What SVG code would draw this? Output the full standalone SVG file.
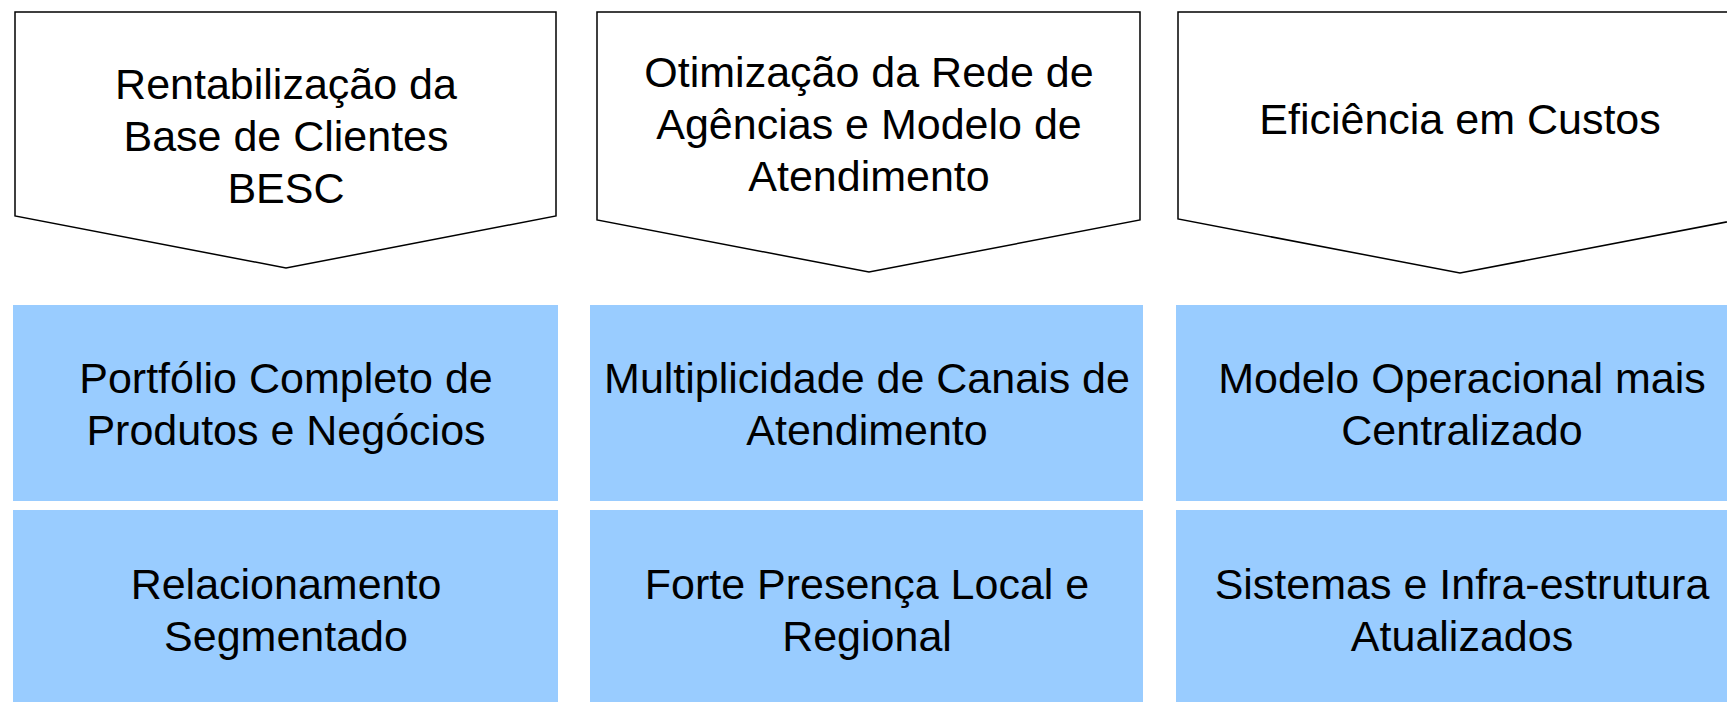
<svg xmlns="http://www.w3.org/2000/svg" width="1727" height="702" viewBox="0 0 1727 702">
<style>
.chev{fill:#ffffff;stroke:#000000;stroke-width:1.5;stroke-linejoin:miter}
.blue{fill:#99CCFF;stroke:none}
.t{font-family:"Liberation Sans",Arial,sans-serif;font-size:43px;fill:#000000;text-anchor:middle}
</style>
<rect width="1727" height="702" fill="#ffffff"/>
<g id="chevron1">
<polygon class="chev" points="15,12 556,12 556,216 286,268 15,216"/>
<text class="t" x="286" y="99">Rentabilização da</text>
<text class="t" x="286" y="151">Base de Clientes</text>
<text class="t" x="286" y="203">BESC</text>
</g>
<g id="chevron2">
<polygon class="chev" points="597,12 1140,12 1140,220 869,272 597,220"/>
<text class="t" x="869" y="87">Otimização da Rede de</text>
<text class="t" x="869" y="139">Agências e Modelo de</text>
<text class="t" x="869" y="191">Atendimento</text>
</g>
<g id="chevron3">
<polygon class="chev" points="1178,12 1742,12 1742,219 1460,273 1178,219"/>
<text class="t" x="1460" y="134">Eficiência em Custos</text>
</g>
<g id="box1a">
<rect class="blue" x="13" y="305" width="545" height="196"/>
<text class="t" x="286" y="393">Portfólio Completo de</text>
<text class="t" x="286" y="445">Produtos e Negócios</text>
</g>
<g id="box1b">
<rect class="blue" x="13" y="510" width="545" height="192"/>
<text class="t" x="286" y="599">Relacionamento</text>
<text class="t" x="286" y="651">Segmentado</text>
</g>
<g id="box2a">
<rect class="blue" x="590" y="305" width="553" height="196"/>
<text class="t" x="867" y="393">Multiplicidade de Canais de</text>
<text class="t" x="867" y="445">Atendimento</text>
</g>
<g id="box2b">
<rect class="blue" x="590" y="510" width="553" height="192"/>
<text class="t" x="867" y="599">Forte Presença Local e</text>
<text class="t" x="867" y="651">Regional</text>
</g>
<g id="box3a">
<rect class="blue" x="1176" y="305" width="568" height="196"/>
<text class="t" x="1462" y="393">Modelo Operacional mais</text>
<text class="t" x="1462" y="445">Centralizado</text>
</g>
<g id="box3b">
<rect class="blue" x="1176" y="510" width="568" height="192"/>
<text class="t" x="1462" y="599">Sistemas e Infra-estrutura</text>
<text class="t" x="1462" y="651">Atualizados</text>
</g>
<g id="connectors"></g>
</svg>
